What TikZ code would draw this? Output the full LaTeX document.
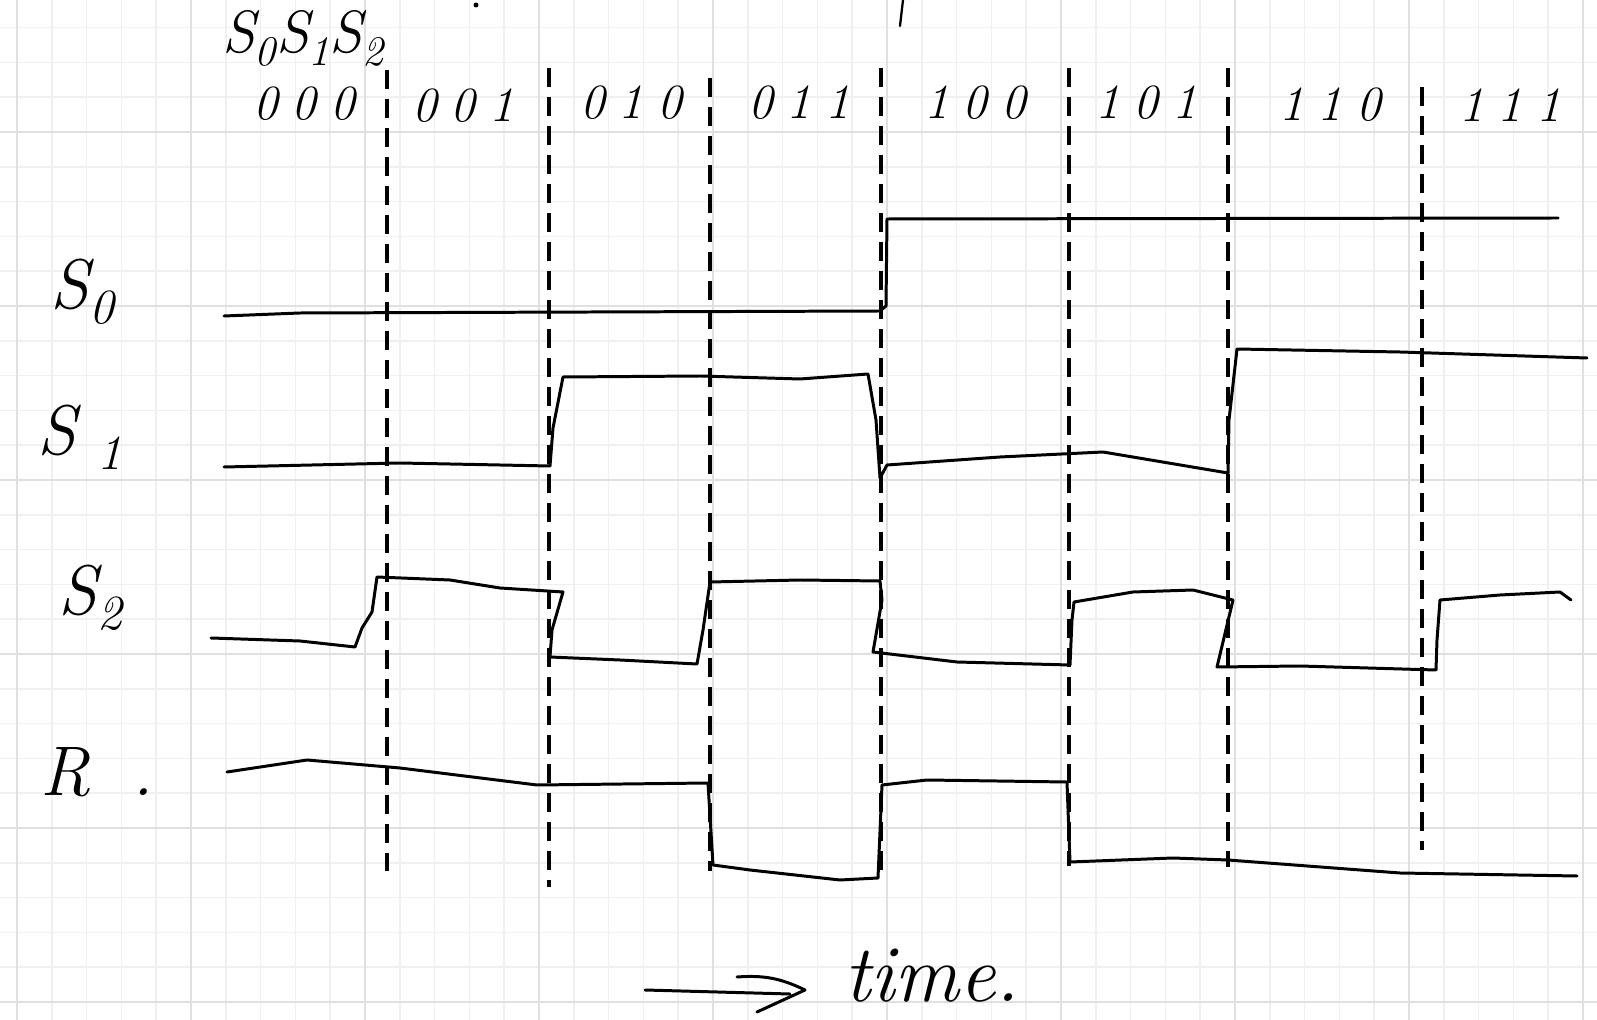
\documentclass[tikz,border=0pt]{standalone}
\newcommand\tri[3]{#1\hspace{0.28em}#2\hspace{0.28em}#3}
\newcommand\sbs[2]{\raisebox{-0.22em}{\fontsize{#1}{#1}\selectfont #2}}
\begin{document}
\begin{tikzpicture}[x=0.02cm,y=-0.02cm,
  sig/.style={line width=1.7pt,line join=round,line cap=round},
  dsh/.style={line width=2.3pt,dash pattern=on 11pt off 5.5pt},
  gminor/.style={draw=black!6,line width=0.9pt},
  gmajor/.style={draw=black!12,line width=1.4pt},
  lbl/.style={font=\fontsize{40}{44}\selectfont\itshape,inner sep=0pt},
  hdr/.style={font=\fontsize{28}{32}\selectfont\itshape,inner sep=0pt}]
\fill[white] (0,0) rectangle (1597,1020);
\useasboundingbox (0,0) rectangle (1597,1020);
% graph paper
\foreach \i in {0,...,45} \draw[gminor] ({17+34.8*\i},0) -- ({17+34.8*\i},1020);
\foreach \i in {-9,...,20} \draw[gminor] (0,{306+34.8*\i}) -- (1597,{306+34.8*\i});
\foreach \i in {0,...,9} \draw[gmajor] ({17+174*\i},0) -- ({17+174*\i},1020);
\foreach \i in {-1,...,4} \draw[gmajor] (0,{306+174*\i}) -- (1597,{306+174*\i});
% stray marks at top
\draw[line width=1.3pt,line cap=round] (903,0) -- (900,26);
\fill (476,5) circle (2.5);
% dashed separators
\draw[dsh] (387,70) -- (387,871);
\draw[dsh] (549,68) -- (549,887);
\draw[dsh] (710,78) -- (710,871);
\draw[dsh] (881,68) -- (881,878);
\draw[dsh] (1069,68) -- (1069,866);
\draw[dsh] (1228,68) -- (1228,867);
\draw[dsh] (1422,87) -- (1422,850);
% header
\node[lbl,font=\fontsize{34}{38}\selectfont\itshape] (hd) at (303,38) {S\sbs{24}{0}S\sbs{24}{1}S\sbs{24}{2}};
\node[hdr] (c0) at (304,104) {\tri000};
\node[hdr] (c1) at (463,106) {\tri001};
\node[hdr] (c2) at (631,103) {\tri010};
\node[hdr] (c3) at (799,103) {\tri011};
\node[hdr] (c4) at (975,103) {\tri100};
\node[hdr] (c5) at (1146,103) {\tri101};
\node[hdr] (c6) at (1330,105) {\tri110};
\node[hdr] (c7) at (1510,105) {\tri111};
% row labels
\node[lbl] (l0) at (82,292) {S\sbs{28}{0}};
\node[lbl] (l1) at (80,437) {S\hspace{0.3em}\sbs{28}{1}};
\node[lbl] (l2) at (90,598) {S\sbs{28}{2}};
\node[lbl] (l3) at (97,772) {R\hspace{0.6em}.};
% S0
\draw[sig] (224,316) -- (300,313) -- (880,311) -- (886,306) -- (887,219) -- (1558,218);
% S1
\draw[sig] (224,467) -- (400,463) -- (550,466) -- (553,428) -- (563,377) -- (700,376)
  -- (800,379) -- (868,374) -- (876,420) -- (880,478) -- (887,465) -- (1000,457)
  -- (1103,452) -- (1228,473) -- (1229,420) -- (1237,349) -- (1400,352) -- (1587,358);
% S2
\draw[sig] (211,638) -- (300,641) -- (355,647) -- (362,628) -- (372,612) -- (377,577)
  -- (450,580) -- (500,588) -- (563,592) -- (552,630) -- (550,657) -- (620,660)
  -- (697,664) -- (703,630) -- (710,582) -- (800,580) -- (880,581) -- (882,600)
  -- (873,652) -- (957,662) -- (1070,665) -- (1072,620) -- (1074,602) -- (1133,592)
  -- (1193,590) -- (1233,600) -- (1217,667) -- (1300,666) -- (1436,670) -- (1437,640)
  -- (1440,600) -- (1500,595) -- (1560,592) -- (1571,600);
% R
\draw[sig] (227,772) -- (307,760) -- (400,768) -- (537,785) -- (708,783) -- (713,865)
  -- (750,870) -- (840,880) -- (878,878) -- (882,785) -- (927,780) -- (1067,782)
  -- (1070,862) -- (1173,858) -- (1228,860) -- (1400,873) -- (1577,876);
% time arrow
\coordinate (ta) at (645,990);
\coordinate (tb) at (790,994);
\coordinate (tip) at (805,990);
\coordinate (h1) at (737,977);
\coordinate (h2) at (757,1012);
\draw[sig] (ta) -- (tb);
\draw[sig] (h1) to[bend left=15] (tip) -- (h2);
\node[inner sep=0pt,font=\fontsize{46}{50}\selectfont\itshape] (time) at (932,976) {time.};
\end{tikzpicture}
\end{document}
